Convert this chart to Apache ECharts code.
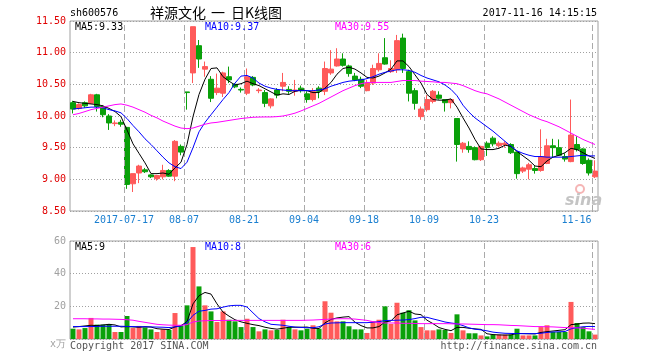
<!DOCTYPE html>
<html><head><meta charset="utf-8">
<script src="https://cdn.jsdelivr.net/npm/echarts@6/dist/echarts.min.js"></script>
<style>html,body{margin:0;padding:0;background:#fff}#c{width:660px;height:360px}</style>
</head><body><div id="c"></div>
<script>
const dates = [
'2017-07-04','2017-07-05','2017-07-06','2017-07-07','2017-07-10','2017-07-11','2017-07-12','2017-07-13','2017-07-14','2017-07-17',
'2017-07-18','2017-07-19','2017-07-20','2017-07-21','2017-07-24','2017-07-25','2017-07-26','2017-07-27','2017-07-28','2017-08-07',
'2017-08-08','2017-08-09','2017-08-10','2017-08-11','2017-08-14','2017-08-15','2017-08-16','2017-08-17','2017-08-18','2017-08-21',
'2017-08-22','2017-08-23','2017-08-24','2017-08-25','2017-08-28','2017-08-29','2017-08-30','2017-08-31','2017-09-01','2017-09-04',
'2017-09-05','2017-09-06','2017-09-07','2017-09-08','2017-09-11','2017-09-12','2017-09-13','2017-09-14','2017-09-15','2017-09-18',
'2017-09-19','2017-09-20','2017-09-21','2017-09-22','2017-09-25','2017-09-26','2017-09-27','2017-09-28','2017-09-29','2017-10-09',
'2017-10-10','2017-10-11','2017-10-12','2017-10-13','2017-10-16','2017-10-17','2017-10-18','2017-10-19','2017-10-20','2017-10-23',
'2017-10-24','2017-10-25','2017-10-26','2017-10-27','2017-10-30','2017-10-31','2017-11-01','2017-11-02','2017-11-03','2017-11-06',
'2017-11-07','2017-11-08','2017-11-09','2017-11-10','2017-11-13','2017-11-14','2017-11-15','2017-11-16'];

const tickIdx = [9, 19, 29, 39, 49, 59, 69, 87];
const tickText = ['2017-07-17','08-07','08-21','09-04','09-18','10-09','10-23','11-16'];
const priceTicks = [8.5, 11.5, 0.5];
const volTicks = [0, 60, 20];

const open = [
10.21,10.12,10.21,10.20,10.335,10.15,10.00,9.88,9.90,9.82,
8.93,9.10,9.15,9.07,9.01,9.04,9.14,9.05,9.52,10.38,
10.68,11.11,10.74,10.58,10.37,10.36,10.62,10.50,10.42,10.36,
10.61,10.40,10.37,10.16,10.41,10.47,10.42,10.39,10.44,10.35,
10.26,10.44,10.39,10.68,10.79,10.90,10.79,10.63,10.58,10.40,
10.52,10.73,10.92,10.70,10.73,11.23,10.70,10.40,9.99,10.10,
10.23,10.33,10.26,10.21,9.96,9.48,9.52,9.50,9.31,9.57,
9.65,9.53,9.55,9.55,9.43,9.13,9.16,9.17,9.14,9.25,
9.53,9.50,9.36,9.28,9.55,9.48,9.30,9.04];
const close = [
10.11,10.18,10.16,10.335,10.15,10.02,9.89,9.89,9.87,8.92,
9.09,9.21,9.12,9.04,9.06,9.14,9.05,9.60,9.43,10.37,
11.41,10.90,10.78,10.28,10.44,10.68,10.57,10.46,10.41,10.62,
10.49,10.41,10.20,10.27,10.33,10.53,10.39,10.41,10.40,10.26,
10.39,10.39,10.75,10.74,10.90,10.80,10.67,10.57,10.47,10.52,
10.75,10.83,10.82,10.75,11.19,10.75,10.36,10.20,10.11,10.26,
10.39,10.28,10.21,10.26,9.55,9.57,9.47,9.31,9.52,9.50,
9.56,9.57,9.57,9.42,9.09,9.18,9.23,9.14,9.36,9.53,
9.50,9.38,9.32,9.70,9.47,9.25,9.10,9.13];
const low = [
10.04,10.10,10.13,10.19,10.07,9.98,9.78,9.84,9.83,8.85,
8.80,8.94,9.10,9.02,8.98,9.00,9.04,8.97,9.38,10.10,
10.52,10.76,10.62,10.22,10.33,10.30,10.52,10.44,10.37,10.33,
10.47,10.36,10.14,10.12,10.28,10.39,10.35,10.32,10.37,10.21,
10.23,10.28,10.33,10.65,10.78,10.78,10.62,10.55,10.44,10.39,
10.49,10.70,10.81,10.68,10.68,10.68,10.23,10.10,9.94,10.07,
10.20,10.26,10.07,10.12,9.28,9.42,9.42,9.30,9.29,9.37,
9.52,9.50,9.50,9.40,9.01,9.10,9.00,9.09,9.12,9.24,
9.35,9.37,9.28,9.27,9.44,9.23,9.06,9.02];
const high = [
10.24,10.20,10.23,10.35,10.35,10.17,10.03,9.93,9.94,9.83,
9.09,9.23,9.18,9.08,9.07,9.23,9.16,9.62,9.55,10.38,
11.41,11.20,10.86,10.63,10.67,10.70,10.78,10.52,10.45,10.75,
10.63,10.44,10.41,10.28,10.44,10.68,10.47,10.57,10.48,10.39,
10.44,10.47,10.86,11.04,11.07,10.99,10.81,10.68,10.62,10.57,
10.81,10.99,11.23,10.88,11.28,11.30,10.73,10.44,10.15,10.33,
10.41,10.39,10.26,10.27,9.96,9.59,9.60,9.52,9.53,9.60,
9.68,9.60,9.60,9.57,9.43,9.20,9.26,9.21,9.79,9.64,
9.64,9.63,9.41,10.26,9.68,9.49,9.33,9.30];

const ma5 = [
10.23,10.21,10.20,10.19,10.18,10.16,10.12,10.07,9.99,9.78,
9.56,9.41,9.26,9.09,9.09,9.10,9.08,9.18,9.27,9.55,
9.99,10.34,10.58,10.75,10.76,10.62,10.55,10.49,10.51,10.55,
10.51,10.48,10.43,10.38,10.33,10.35,10.34,10.39,10.41,10.40,
10.37,10.37,10.44,10.53,10.66,10.75,10.77,10.74,10.68,10.61,
10.60,10.63,10.68,10.74,10.87,10.87,10.78,10.65,10.52,10.34,
10.26,10.25,10.25,10.27,10.14,9.97,9.81,9.63,9.48,9.47,
9.47,9.49,9.54,9.52,9.44,9.37,9.30,9.21,9.20,9.29,
9.35,9.38,9.42,9.49,9.47,9.42,9.37,9.33];
const ma10 = [
10.11,10.12,10.13,10.14,10.14,10.13,10.10,10.08,10.05,9.96,
9.85,9.75,9.64,9.55,9.45,9.35,9.26,9.20,9.17,9.27,
9.50,9.75,9.90,10.02,10.14,10.26,10.37,10.52,10.63,10.64,
10.60,10.52,10.47,10.44,10.42,10.41,10.40,10.40,10.40,10.40,
10.40,10.41,10.43,10.47,10.50,10.53,10.55,10.56,10.57,10.59,
10.62,10.66,10.69,10.71,10.73,10.73,10.72,10.69,10.64,10.60,
10.57,10.54,10.49,10.42,10.32,10.17,10.06,9.97,9.90,9.83,
9.76,9.68,9.60,9.52,9.45,9.41,9.38,9.36,9.36,9.35,
9.35,9.35,9.35,9.36,9.37,9.38,9.37,9.37];
const ma30 = [
10.02,10.04,10.07,10.10,10.12,10.14,10.16,10.18,10.19,10.17,
10.14,10.10,10.06,10.01,9.97,9.92,9.88,9.84,9.81,9.80,
9.81,9.84,9.87,9.89,9.90,9.915,9.93,9.945,9.96,9.97,
9.98,9.983,9.985,9.985,9.99,10.00,10.02,10.045,10.08,10.12,
10.16,10.20,10.25,10.30,10.35,10.40,10.44,10.48,10.51,10.53,
10.53,10.53,10.53,10.53,10.545,10.56,10.56,10.56,10.55,10.545,
10.54,10.53,10.53,10.52,10.51,10.48,10.44,10.40,10.37,10.35,
10.31,10.27,10.22,10.17,10.12,10.07,10.02,9.98,9.94,9.91,
9.87,9.83,9.78,9.73,9.68,9.63,9.59,9.55];

const vol = [
6.3,5.9,6.7,12.9,8.8,8.8,9.2,4.3,4.3,14.1,
6.7,8.0,7.1,5.9,4.3,5.9,5.5,15.9,8.0,20.6,
56.3,32.2,20.6,16.9,10.4,16.9,11.8,10.8,7.3,12.4,
7.3,4.7,5.9,5.3,5.5,11.8,7.3,5.9,5.3,6.3,
8.4,6.3,23.1,16.1,10.8,10.8,7.8,5.9,5.9,3.7,
10.8,11.8,20.0,9.2,22.2,16.1,17.6,11.4,7.3,5.3,
5.3,5.9,5.5,3.7,15.1,5.3,3.5,3.5,2.2,1.6,
2.7,2.7,2.7,2.7,6.3,2.2,2.2,2.2,7.3,8.4,
4.3,4.3,4.3,22.7,9.8,7.3,4.7,2.7];
const vma5 = [
7.3,7.6,8.0,8.4,8.2,8.6,9.0,8.6,7.4,7.6,
7.4,7.2,7.5,7.3,6.3,6.0,5.8,7.4,8.2,10.6,
21.5,26.5,28.5,27.5,21.5,16.5,14.0,11.8,10.5,9.6,
8.8,8.2,7.2,6.5,6.0,6.6,7.2,7.2,7.2,7.3,
6.6,6.4,9.9,12.0,12.9,13.4,13.7,10.3,8.2,6.8,
6.8,7.6,10.4,11.1,14.8,15.9,17.0,15.3,14.9,11.5,
9.4,7.0,5.9,5.1,7.1,7.1,6.6,6.2,5.9,3.2,
2.7,2.5,2.4,2.5,3.4,3.3,3.2,3.1,4.0,4.5,
4.9,5.3,5.7,8.8,9.1,9.7,9.8,9.4];
const vma10 = [
7.6,7.6,7.6,7.6,7.7,7.8,7.8,7.8,7.8,7.7,
7.6,7.5,7.5,7.4,7.3,7.2,7.0,7.4,7.9,10.0,
14.5,17.0,17.5,18.3,18.5,19.5,20.3,20.6,20.6,19.6,
16.0,12.5,10.5,9.0,8.7,8.4,7.8,7.3,7.1,6.9,
6.9,7.5,9.2,9.8,9.9,10.0,10.0,10.0,10.0,10.0,
10.3,10.6,11.3,11.4,11.5,11.6,11.9,12.5,13.3,13.3,
12.3,11.4,10.4,9.8,9.3,8.2,6.8,6.0,5.6,5.0,
4.2,3.8,3.5,3.4,3.3,3.3,3.3,3.3,3.5,4.0,
4.3,4.4,4.6,6.2,7.0,7.5,7.7,7.6];
const vma30 = [
12.4,12.4,12.4,12.3,12.3,12.2,12.2,12.1,12.0,11.8,
11.5,10.8,10.2,9.6,9.0,8.7,8.5,8.4,8.4,8.8,
10.4,11.0,11.2,11.3,11.3,11.3,11.4,11.4,11.4,11.4,
11.4,11.4,11.4,11.4,11.4,11.4,11.4,11.4,11.4,11.5,
11.6,11.8,12.0,12.2,12.4,12.4,12.4,12.2,11.8,11.4,
10.6,10.0,9.8,9.8,9.8,9.6,9.6,9.5,9.4,9.4,
9.4,9.4,9.4,9.3,9.2,9.2,9.1,9.0,8.9,8.8,
8.8,8.7,8.5,8.3,8.2,8.0,7.8,7.6,7.6,7.5,
7.4,7.2,7.0,6.9,6.8,6.6,6.2,5.9];

const UP = '#ff5a5a', DOWN = '#0aa00a';
const MONO = '"DejaVu Sans Mono", monospace';
const GRIDC = '#a0a0a0';

const candle = open.map((o, i) => [o, close[i], low[i], high[i]]);
const volData = vol.map((v, i) => ({ value: v, itemStyle: { color: close[i] >= open[i] ? UP : DOWN } }));
const isTick = (i) => tickIdx.indexOf(i) >= 0;

function xAxisCfg(gi, showLabel) {
  return {
    type: 'category', gridIndex: gi, data: dates, boundaryGap: true,
    axisLine: { show: false }, axisTick: { show: false },
    axisLabel: {
      show: showLabel, interval: (i) => isTick(i), margin: 4,
      formatter: (v, i) => {
        const k = tickIdx.indexOf(i);
        if (k < 0) return '';
        return (k === tickIdx.length - 1 ? '{e|' : '{n|') + tickText[k] + '}';
      },
      rich: {
        n: { color: '#1a7fd0', fontSize: 10, fontFamily: MONO, padding: [0, 6, 0, 0] },
        e: { color: '#1a7fd0', fontSize: 10, fontFamily: MONO, padding: [0, 37, 0, 0] }
      }
    },
    splitLine: { show: false }
  };
}
// hidden value axes measuring band edges, used only to place the dashed date lines
function edgeAxis(gi) {
  return { type: 'value', gridIndex: gi, min: 0, max: dates.length, show: false,
    splitLine: { show: false }, axisLabel: { show: false }, axisLine: { show: false }, axisTick: { show: false } };
}
function dateLines(xi, yi) {
  return { type: 'line', xAxisIndex: xi, yAxisIndex: yi, data: [], silent: true,
    markLine: { symbol: 'none', silent: true, animation: false, label: { show: false },
      lineStyle: { color: '#aaaaaa', type: [6, 3], width: 1 },
      data: tickIdx.map((i) => ({ xAxis: i })) }, z: 1 };
}

function lineSeries(name, data, color, xi, yi) {
  return { name, type: 'line', data, xAxisIndex: xi, yAxisIndex: yi, showSymbol: false, symbol: 'none',
    silent: true, lineStyle: { color, width: 1 }, itemStyle: { color }, z: 5 };
}

function txt(text, x, y, fill, font, align) {
  return { type: 'text', x, y, silent: true, z: 100,
    style: { text, fill, font, align: align || 'left', verticalAlign: 'middle' } };
}

const chart = echarts.init(document.getElementById('c'), null, { renderer: 'canvas' });
chart.setOption({
  animation: false,
  backgroundColor: '#fff',
  grid: [
    { left: 70, top: 21, width: 528, height: 190, show: true, borderColor: GRIDC, borderWidth: 1, backgroundColor: 'transparent' },
    { left: 70, top: 241, width: 528, height: 98, show: true, borderColor: GRIDC, borderWidth: 1, backgroundColor: 'transparent' }
  ],
  xAxis: [xAxisCfg(0, true), xAxisCfg(1, false), edgeAxis(0), edgeAxis(1)],
  yAxis: [
    { type: 'value', gridIndex: 0, min: priceTicks[0], max: priceTicks[1], interval: priceTicks[2],
      axisLine: { show: false }, axisTick: { show: false },
      axisLabel: { color: '#e00000', fontSize: 10, fontFamily: MONO, margin: 4, formatter: (v) => v.toFixed(2) },
      splitLine: { show: true, lineStyle: { color: GRIDC, type: [1, 2], width: 1 } } },
    { type: 'value', gridIndex: 1, min: volTicks[0], max: volTicks[1], interval: volTicks[2],
      axisLine: { show: false }, axisTick: { show: false },
      axisLabel: { color: '#a0a0a0', fontSize: 10, fontFamily: MONO, margin: 4, formatter: (v) => v === 0 ? '' : String(v) },
      splitLine: { show: true, lineStyle: { color: GRIDC, type: [1, 2], width: 1 } } }
  ],
  series: [
    dateLines(2, 0),
    dateLines(3, 1),
    { name: 'K', type: 'candlestick', data: candle, xAxisIndex: 0, yAxisIndex: 0, barWidth: 5,
      itemStyle: { color: UP, color0: DOWN, borderColor: UP, borderColor0: DOWN, borderWidth: 1 }, z: 3 },
    lineSeries('MA5', ma5, '#000000', 0, 0),
    lineSeries('MA10', ma10, '#0000ff', 0, 0),
    lineSeries('MA30', ma30, '#ff00ff', 0, 0),
    { name: 'VOL', type: 'bar', data: volData, xAxisIndex: 1, yAxisIndex: 1, barWidth: 5, z: 3 },
    lineSeries('VMA5', vma5, '#000000', 1, 1),
    lineSeries('VMA10', vma10, '#0000ff', 1, 1),
    lineSeries('VMA30', vma30, '#ff00ff', 1, 1)
  ],
  graphic: [
    txt('sh600576', 70, 13, '#000', '10px ' + MONO),
    txt('祥源文化', 150, 13, '#000', '14px "Noto Sans CJK SC"'),
    txt('一', 211, 13, '#000', '14px "Noto Sans CJK SC"'),
    txt('日K线图', 231, 13, '#000', '14px "Noto Sans CJK SC"'),
    txt('2017-11-16 14:15:15', 597, 13, '#000', '10px ' + MONO, 'right'),
    txt('MA5:9.33', 75, 27, '#000', '10px ' + MONO),
    txt('MA10:9.37', 205, 27, '#0000ff', '10px ' + MONO),
    txt('MA30:9.55', 335, 27, '#ff00ff', '10px ' + MONO),
    txt('MA5:9', 75, 247, '#000', '10px ' + MONO),
    txt('MA10:8', 205, 247, '#0000ff', '10px ' + MONO),
    txt('MA30:6', 335, 247, '#ff00ff', '10px ' + MONO),
    txt('x万', 50, 344, '#a0a0a0', '10px ' + MONO),
    txt('Copyright 2017 SINA.COM', 70, 346, '#555', '10px ' + MONO),
    txt('http://finance.sina.com.cn', 597, 346, '#555', '10px ' + MONO, 'right'),
    { type: 'circle', shape: { cx: 580, cy: 189, r: 4 }, silent: true, z: 1,
      style: { fill: 'none', stroke: '#f5b5b5', lineWidth: 2 } },
    txt('sina', 565, 201, '#c4c4c4', 'italic bold 16px "DejaVu Sans"')
  ]
});
</script>
</body></html>
